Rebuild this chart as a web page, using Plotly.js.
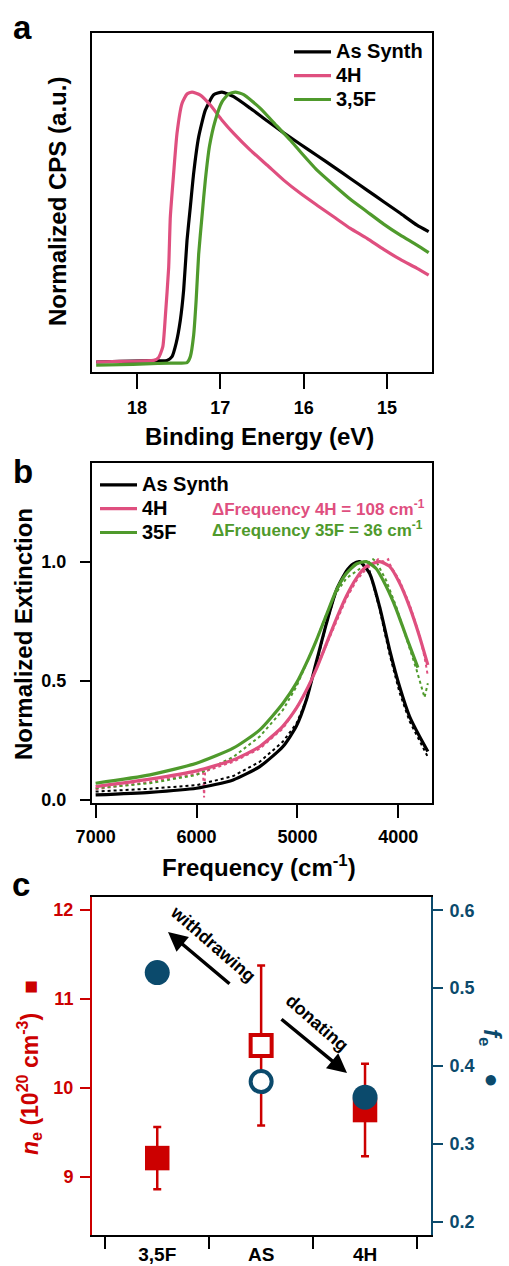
<!DOCTYPE html>
<html><head><meta charset="utf-8">
<script src="https://cdn.plot.ly/plotly-3.0.1.min.js"></script>
<style>html,body{margin:0;padding:0;background:#fff}#chart{width:509px;height:1266px}</style>
</head><body><div id="chart"></div>
<script>
// ---------- Panel a : UPS cutoff ----------
const a_E_as = [18.49, 18.2, 17.9, 17.64, 17.58, 17.53, 17.48, 17.44, 17.40, 17.36, 17.32, 17.26, 17.18, 17.08, 16.98, 16.84, 16.64, 16.44, 16.24, 16.04, 15.84, 15.64, 15.44, 15.24, 15.04, 14.84, 14.64, 14.50];
const a_Y_as = [0.0, 0.002, 0.004, 0.006, 0.02, 0.07, 0.155, 0.267, 0.45, 0.575, 0.70, 0.834, 0.933, 0.99, 1.0, 0.983, 0.94, 0.894, 0.849, 0.807, 0.765, 0.723, 0.680, 0.637, 0.594, 0.551, 0.507, 0.483];
const a_E_4h = [18.49, 18.2, 17.9, 17.80, 17.74, 17.69, 17.66, 17.62, 17.60, 17.56, 17.52, 17.46, 17.40, 17.34, 17.24, 17.12, 16.98, 16.84, 16.64, 16.44, 16.24, 16.04, 15.84, 15.64, 15.44, 15.24, 15.04, 14.84, 14.64, 14.50];
const a_Y_4h = [0.0, 0.002, 0.004, 0.006, 0.017, 0.057, 0.168, 0.35, 0.538, 0.70, 0.847, 0.958, 0.993, 1.0, 0.989, 0.952, 0.896, 0.847, 0.785, 0.730, 0.674, 0.625, 0.581, 0.538, 0.495, 0.458, 0.417, 0.380, 0.347, 0.322];
const a_E_35f = [18.49, 18.2, 17.9, 17.60, 17.40, 17.36, 17.32, 17.29, 17.26, 17.22, 17.18, 17.13, 17.06, 16.98, 16.90, 16.82, 16.72, 16.52, 16.32, 16.16, 16.04, 15.84, 15.64, 15.44, 15.24, 15.04, 14.84, 14.64, 14.50];
const a_Y_35f = [-0.012, -0.01, -0.007, -0.004, -0.002, 0.02, 0.10, 0.23, 0.40, 0.54, 0.674, 0.80, 0.896, 0.964, 0.993, 1.0, 0.991, 0.94, 0.874, 0.822, 0.779, 0.711, 0.656, 0.603, 0.557, 0.511, 0.470, 0.433, 0.405];
const a_ticks = [18, 17, 16, 15];

// ---------- Panel b : LSPR extinction ----------
const b_F_as_fit = [7000, 6462, 6000, 5637, 5373, 5143, 5010, 4911, 4812, 4713, 4614, 4515, 4450, 4383, 4284, 4185, 4086, 3987, 3888, 3789, 3707];
const b_Y_as_fit = [0.021, 0.032, 0.049, 0.084, 0.14, 0.224, 0.31, 0.42, 0.58, 0.74, 0.88, 0.96, 0.99, 1.0, 0.95, 0.81, 0.63, 0.475, 0.35, 0.266, 0.203];
const b_F_4h_fit = [7000, 6462, 6000, 5637, 5373, 5143, 5010, 4911, 4812, 4713, 4614, 4515, 4416, 4317, 4185, 4086, 3987, 3888, 3789, 3707];
const b_Y_4h_fit = [0.056, 0.087, 0.122, 0.168, 0.224, 0.31, 0.385, 0.46, 0.55, 0.655, 0.76, 0.855, 0.93, 0.98, 1.0, 0.98, 0.91, 0.81, 0.685, 0.566];
const b_F_35f_fit = [7000, 6462, 6000, 5637, 5373, 5143, 5010, 4911, 4812, 4713, 4614, 4515, 4416, 4317, 4218, 4119, 4020, 3921, 3806];
const b_Y_35f_fit = [0.07, 0.105, 0.154, 0.217, 0.294, 0.406, 0.49, 0.574, 0.67, 0.776, 0.88, 0.95, 0.99, 1.0, 0.97, 0.895, 0.80, 0.685, 0.555];
const b_F_as_dat = [7000, 6462, 6000, 5637, 5373, 5143, 5010, 4911, 4812, 4713, 4614, 4515, 4420, 4340, 4284, 4185, 4086, 3987, 3888, 3789, 3707];
const b_Y_as_dat = [0.035, 0.047, 0.062, 0.10, 0.16, 0.245, 0.32, 0.42, 0.57, 0.74, 0.88, 0.96, 0.99, 1.0, 0.96, 0.80, 0.61, 0.45, 0.33, 0.245, 0.18];
const b_F_4h_dat = [7000, 6462, 6000, 5935, 5925, 5915, 5637, 5373, 5143, 5010, 4911, 4812, 4713, 4614, 4515, 4416, 4317, 4250, 4200, 4150, 4100, 4086, 3987, 3888, 3789, 3740, 3707];
const b_Y_4h_dat = [0.045, 0.075, 0.11, 0.115, 0.01, 0.12, 0.16, 0.215, 0.30, 0.385, 0.46, 0.55, 0.65, 0.75, 0.845, 0.92, 0.97, 0.99, 1.01, 1.0, 1.01, 0.99, 0.92, 0.82, 0.69, 0.60, 0.52];
const b_F_35f_dat = [7000, 6462, 6000, 5637, 5373, 5143, 5010, 4911, 4812, 4713, 4614, 4515, 4416, 4317, 4250, 4218, 4119, 4020, 3921, 3822, 3740, 3707];
const b_Y_35f_dat = [0.049, 0.07, 0.105, 0.18, 0.266, 0.378, 0.475, 0.57, 0.67, 0.78, 0.87, 0.93, 0.96, 0.99, 1.01, 1.0, 0.92, 0.81, 0.68, 0.55, 0.43, 0.49];
const b_xticks = [7000, 6000, 5000, 4000];
const b_yticks = [0, 0.5, 1.0];

// ---------- Panel c : carrier density / fraction ----------
const c_categories = ['3,5F', 'AS', '4H'];
const c_pos = [0, 1, 2];
const c_ne = [9.21, 10.475, 9.75];
const c_ne_err = [0.35, 0.90, 0.52];
const c_fe = [0.52, 0.38, 0.36];
const c_left_ticks = [9, 10, 11, 12];
const c_right_ticks = [0.2, 0.3, 0.4, 0.5, 0.6];
const c_sep_ticks = [-0.5, 0.5, 1.5, 2.5];

// ---------- styling ----------
const FONT = 'Liberation Sans, Arial, Helvetica, sans-serif';
const BLACK = '#000000', PINK = '#df4f7f', GREEN = '#4f9a2c', RED = '#cc0000', BLUE = '#0b4a6c';
const W = 509, H = 1266;
const px = v => v / W;
const py = v => 1 - v / H;

const traces = [
  {x: a_E_as, y: a_Y_as, name: '<span style="font-size:20px">As Synth</span>', type: 'scatter', mode: 'lines', xaxis: 'x', yaxis: 'y', line: {color: BLACK, width: 3.2, shape: 'spline', smoothing: 0.5}, legend: 'legend'},
  {x: a_E_4h, y: a_Y_4h, name: '<span style="font-size:20px">4H</span>', type: 'scatter', mode: 'lines', xaxis: 'x', yaxis: 'y', line: {color: PINK, width: 3.2, shape: 'spline', smoothing: 0.5}, legend: 'legend'},
  {x: a_E_35f, y: a_Y_35f, name: '<span style="font-size:20px">3,5F</span>', type: 'scatter', mode: 'lines', xaxis: 'x', yaxis: 'y', line: {color: GREEN, width: 3.2, shape: 'spline', smoothing: 0.5}, legend: 'legend'},

  {x: b_F_as_dat, y: b_Y_as_dat, type: 'scatter', mode: 'lines', xaxis: 'x2', yaxis: 'y2', line: {color: BLACK, width: 2, dash: 'dot'}, showlegend: false},
  {x: b_F_4h_dat, y: b_Y_4h_dat, type: 'scatter', mode: 'lines', xaxis: 'x2', yaxis: 'y2', line: {color: PINK, width: 2, dash: 'dot'}, showlegend: false},
  {x: b_F_35f_dat, y: b_Y_35f_dat, type: 'scatter', mode: 'lines', xaxis: 'x2', yaxis: 'y2', line: {color: GREEN, width: 2, dash: 'dot'}, showlegend: false},
  {x: b_F_as_fit, y: b_Y_as_fit, name: '<span style="font-size:20px">As Synth</span>', type: 'scatter', mode: 'lines', xaxis: 'x2', yaxis: 'y2', line: {color: BLACK, width: 3.2, shape: 'spline', smoothing: 0.6}, legend: 'legend2'},
  {x: b_F_4h_fit, y: b_Y_4h_fit, name: '<span style="font-size:20px">4H</span>', type: 'scatter', mode: 'lines', xaxis: 'x2', yaxis: 'y2', line: {color: PINK, width: 3.2, shape: 'spline', smoothing: 0.6}, legend: 'legend2'},
  {x: b_F_35f_fit, y: b_Y_35f_fit, name: '<span style="font-size:20px">35F</span>', type: 'scatter', mode: 'lines', xaxis: 'x2', yaxis: 'y2', line: {color: GREEN, width: 3.2, shape: 'spline', smoothing: 0.6}, legend: 'legend2'},

  {x: c_pos, y: c_ne, type: 'scatter', mode: 'markers', xaxis: 'x3', yaxis: 'y3', showlegend: false,
   error_y: {type: 'data', array: c_ne_err, visible: true, color: RED, thickness: 2.5, width: 4},
   marker: {symbol: 'square', opacity: 1, size: [24.5, 21, 24.5], color: [RED, '#ffffff', RED], line: {color: RED, width: [0, 4, 0]}}},
  {x: c_pos, y: c_fe, type: 'scatter', mode: 'markers', xaxis: 'x3', yaxis: 'y4', showlegend: false,
   marker: {symbol: 'circle', opacity: 1, size: [25, 21, 25], color: [BLUE, '#ffffff', BLUE], line: {color: BLUE, width: [0, 4, 0]}}}
];

const frame = {showline: true, linecolor: BLACK, linewidth: 2, mirror: true, showgrid: false, zeroline: false};
const tickfont = {family: FONT, size: 18, color: BLACK, weight: 'bold'};
const XD = [92 / W, 432 / W];

const layout = {
  width: W, height: H, margin: {l: 0, r: 0, t: 0, b: 0},
  paper_bgcolor: '#ffffff', plot_bgcolor: '#ffffff',
  font: {family: FONT, color: BLACK, weight: 'bold'},
  xaxis: Object.assign({}, frame, {domain: XD, anchor: 'y', range: [18.54, 14.46], tickvals: a_ticks, ticks: 'outside', ticklen: 15, tickwidth: 2, tickcolor: BLACK, tickfont: tickfont, ticklabelstandoff: 3}),
  yaxis: Object.assign({}, frame, {domain: [1 - 372 / H, 1 - 33 / H], anchor: 'x', range: [-0.037, 1.219], showticklabels: false, ticks: ''}),
  xaxis2: Object.assign({}, frame, {domain: XD, anchor: 'y2', range: [7036, 3666], tickvals: b_xticks, ticks: 'outside', ticklen: 13, tickwidth: 2, tickcolor: BLACK, tickfont: tickfont, ticklabelstandoff: 3}),
  yaxis2: Object.assign({}, frame, {domain: [1 - 803 / H, 1 - 463 / H], anchor: 'x2', range: [-0.013, 1.414], tickvals: b_yticks, tickformat: '.1f', ticks: 'outside', ticklen: 10, tickwidth: 2, tickcolor: BLACK, tickfont: tickfont, ticklabelstandoff: 10}),
  xaxis3: Object.assign({}, frame, {domain: [92 / W, 431 / W], anchor: 'y3', range: [-0.628, 2.635], tickvals: c_pos, ticktext: c_categories, ticks: '', tickfont: {family: FONT, size: 19, color: BLACK, weight: 'bold'}, ticklabelstandoff: 1,
    minor: {tickmode: 'array', tickvals: c_sep_ticks, ticks: 'outside', ticklen: 12, tickwidth: 2, tickcolor: BLACK, showgrid: false}}),
  yaxis3: {domain: [1 - 1235 / H, 1 - 897 / H], anchor: 'x3', range: [8.345, 12.146], showline: true, linecolor: RED, linewidth: 2, mirror: false, showgrid: false, zeroline: false,
    tickvals: c_left_ticks, ticks: 'outside', ticklen: 10, tickwidth: 2, tickcolor: RED, tickfont: {family: FONT, size: 18, color: RED, weight: 'bold'}, ticklabelstandoff: 3},
  yaxis4: {overlaying: 'y3', side: 'right', anchor: 'x3', range: [0.183, 0.617], showline: true, linecolor: BLUE, linewidth: 2, showgrid: false, zeroline: false,
    tickvals: c_right_ticks, tickformat: '.1f', ticks: 'outside', ticklen: 10, tickwidth: 2, tickcolor: BLUE, tickfont: {family: FONT, size: 18, color: BLUE, weight: 'bold'}, ticklabelstandoff: 3},
  legend: {x: px(289), y: py(35), xanchor: 'left', yanchor: 'top', bgcolor: 'rgba(0,0,0,0)', borderwidth: 0, font: {family: FONT, size: 16, color: BLACK, weight: 'bold'}, itemwidth: 37, tracegroupgap: 0},
  legend2: {x: px(95), y: py(468), xanchor: 'left', yanchor: 'top', bgcolor: 'rgba(0,0,0,0)', borderwidth: 0, font: {family: FONT, size: 16, color: BLACK, weight: 'bold'}, itemwidth: 37, tracegroupgap: 0},
  annotations: [
    {text: 'a', x: px(11), y: py(27), xref: 'paper', yref: 'paper', xanchor: 'left', yanchor: 'middle', showarrow: false, font: {family: FONT, size: 33, color: BLACK, weight: 'bold'}},
    {text: 'b', x: px(11), y: py(471), xref: 'paper', yref: 'paper', xanchor: 'left', yanchor: 'middle', showarrow: false, font: {family: FONT, size: 33, color: BLACK, weight: 'bold'}},
    {text: 'c', x: px(10), y: py(884), xref: 'paper', yref: 'paper', xanchor: 'left', yanchor: 'middle', showarrow: false, font: {family: FONT, size: 33, color: BLACK, weight: 'bold'}},

    {text: 'Binding Energy (eV)', x: px(259), y: py(436), xref: 'paper', yref: 'paper', xanchor: 'center', yanchor: 'middle', showarrow: false, font: {family: FONT, size: 24, color: BLACK, weight: 'bold'}},
    {text: 'Normalized CPS (a.u.)', x: px(57), y: py(202), xref: 'paper', yref: 'paper', xanchor: 'center', yanchor: 'middle', textangle: -90, showarrow: false, font: {family: FONT, size: 24, color: BLACK, weight: 'bold'}},
    {text: 'Frequency (cm<sup>-1</sup>)', x: px(259), y: py(866), xref: 'paper', yref: 'paper', xanchor: 'center', yanchor: 'middle', showarrow: false, font: {family: FONT, size: 24, color: BLACK, weight: 'bold'}},
    {text: 'Normalized Extinction', x: px(23), y: py(634), xref: 'paper', yref: 'paper', xanchor: 'center', yanchor: 'middle', textangle: -90, showarrow: false, font: {family: FONT, size: 24, color: BLACK, weight: 'bold'}},
    {text: '\u0394Frequency 4H = 108 cm<sup>-1</sup>', x: px(210), y: py(508), xref: 'paper', yref: 'paper', xanchor: 'left', yanchor: 'middle', showarrow: false, font: {family: FONT, size: 17, color: PINK, weight: 'bold'}},
    {text: '\u0394Frequency 35F = 36 cm<sup>-1</sup>', x: px(210), y: py(529), xref: 'paper', yref: 'paper', xanchor: 'left', yanchor: 'middle', showarrow: false, font: {family: FONT, size: 17, color: GREEN, weight: 'bold'}},

    {text: '<i>n</i><sub>e</sub>\u00A0(10<sup>20</sup> cm<sup>-3</sup>)\u00A0\u00A0\u00A0\u25A0', x: px(29), y: py(1068), xref: 'paper', yref: 'paper', xanchor: 'center', yanchor: 'middle', textangle: -90, showarrow: false, font: {family: FONT, size: 23, color: RED, weight: 'bold'}},
    {text: '<i>f</i><sub>e</sub>\u00A0\u00A0\u00A0\u00A0\u25CF', x: px(491), y: py(1058), xref: 'paper', yref: 'paper', xanchor: 'center', yanchor: 'middle', textangle: 90, showarrow: false, font: {family: FONT, size: 24, color: BLUE, weight: 'bold'}},

    {text: '', x: px(168), y: py(932), xref: 'paper', yref: 'paper', ax: 63, ay: 53, showarrow: true, arrowhead: 2, arrowsize: 1.1, arrowwidth: 3.5, arrowcolor: BLACK},
    {text: 'withdrawing', x: px(213), y: py(944), xref: 'paper', yref: 'paper', xanchor: 'center', yanchor: 'middle', textangle: 41, showarrow: false, font: {family: FONT, size: 18, color: BLACK, weight: 'bold'}},
    {text: '', x: px(347), y: py(1073), xref: 'paper', yref: 'paper', ax: -67, ay: -55, showarrow: true, arrowhead: 2, arrowsize: 1.1, arrowwidth: 3.5, arrowcolor: BLACK},
    {text: 'donating', x: px(317), y: py(1023), xref: 'paper', yref: 'paper', xanchor: 'center', yanchor: 'middle', textangle: 41, showarrow: false, font: {family: FONT, size: 18, color: BLACK, weight: 'bold'}}
  ]
};

Plotly.newPlot('chart', traces, layout, {displayModeBar: false, staticPlot: true});
</script></body></html>
